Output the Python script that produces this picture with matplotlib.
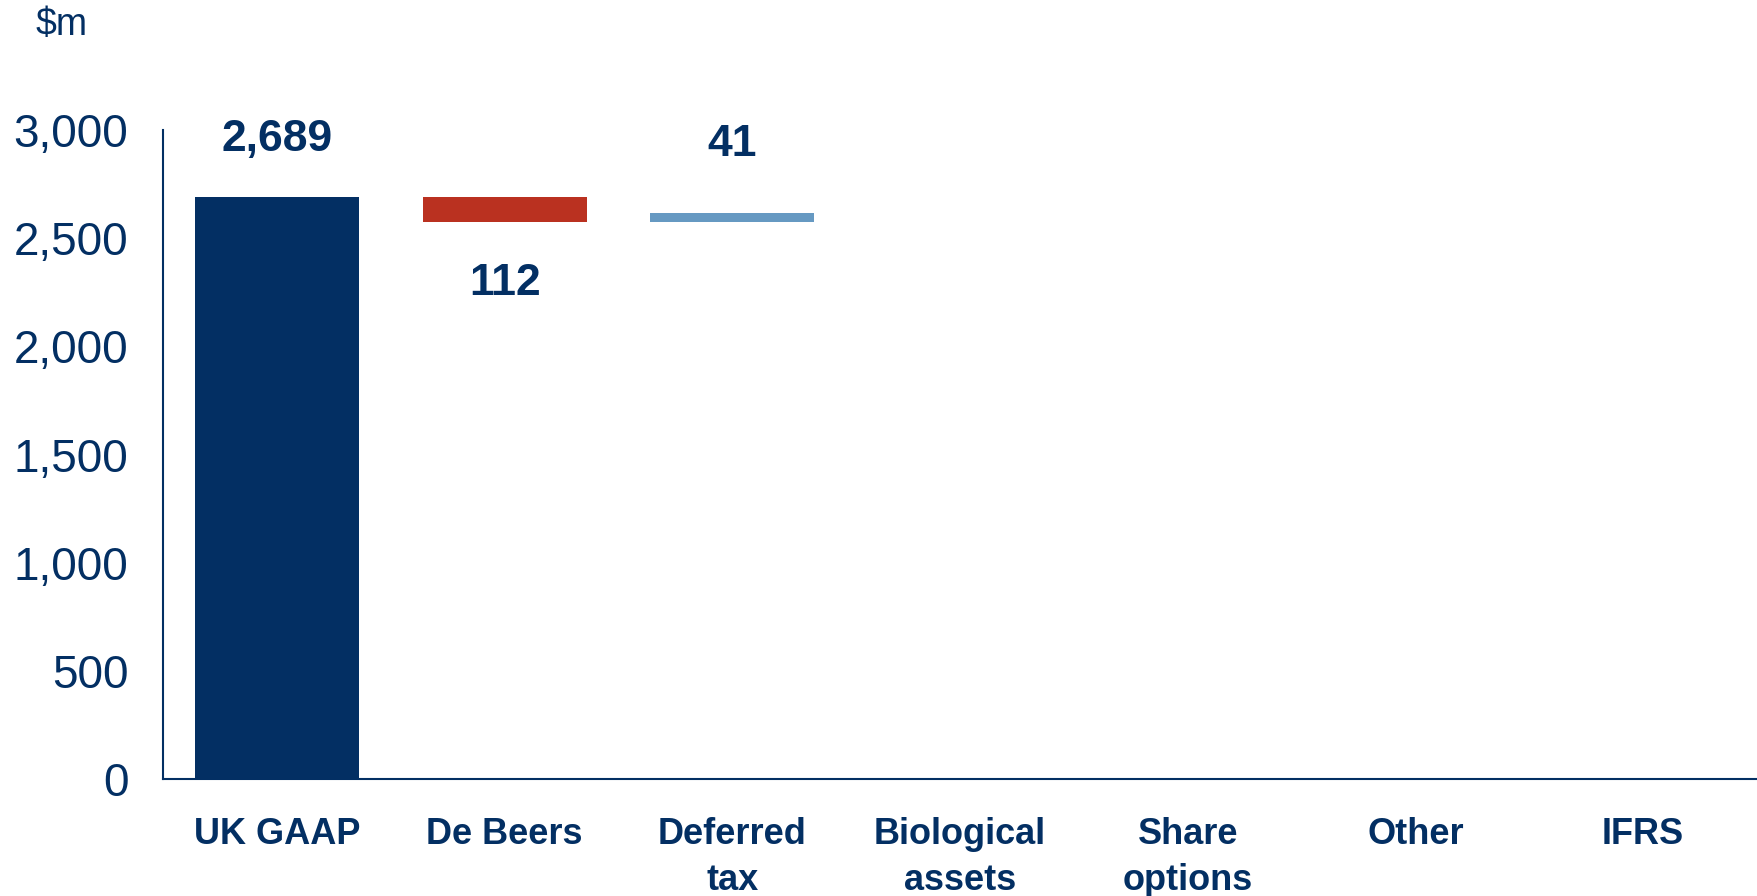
import matplotlib.pyplot as plt

categories = ["UK GAAP", "De Beers", "Deferred\ntax", "Biological\nassets",
              "Share\noptions", "Other", "IFRS"]
start_value = 2689
changes = [-112, 41]          # only the first two adjustments are drawn
change_colors = ["#BA3120", "#6699C2"]
yticks = [0, 500, 1000, 1500, 2000, 2500, 3000]

navy = "#032F63"
plt.rcParams['font.family'] = ['Liberation Sans', 'DejaVu Sans']

fig = plt.figure(figsize=(17.57, 8.96), dpi=100)
ax = fig.add_axes([163 / 1757, 1 - 779 / 896, 1 - 163 / 1757, (779 - 130) / 896])

w = 0.72
ax.bar(0, start_value, width=w, color=navy)
ax.annotate(f"{start_value:,}", (0, start_value), xytext=(0, 27), textcoords='offset points',
            ha='center', va='bottom', fontsize=32, fontweight='bold', color=navy)

level = start_value
for i, (d, c) in enumerate(zip(changes, change_colors), start=1):
    lo = min(level, level + d)
    ax.bar(i, abs(d), bottom=lo, width=w, color=c)
    if d < 0:
        ax.annotate(f"{abs(d):,}", (i, lo), xytext=(0, -30), textcoords='offset points',
                    ha='center', va='top', fontsize=32, fontweight='bold', color=navy)
    else:
        ax.annotate(f"{d:,}", (i, lo + d), xytext=(0, 34), textcoords='offset points',
                    ha='center', va='bottom', fontsize=32, fontweight='bold', color=navy)
    level += d

ax.set_xlim(-0.5, 6.5)
ax.set_ylim(0, 3000)
ax.set_yticks(yticks)
ax.set_yticklabels([f"{v:,}" for v in yticks], fontsize=33, color=navy)
ax.set_xticks(range(len(categories)))
ax.set_xticklabels(categories, fontsize=26, fontweight='bold', color=navy, linespacing=1.42)
ax.tick_params(axis='y', length=0, pad=25)
ax.tick_params(axis='x', length=0, pad=27)

for s in ['top', 'right']:
    ax.spines[s].set_visible(False)
for s in ['left', 'bottom']:
    ax.spines[s].set_color(navy)
    ax.spines[s].set_linewidth(1.5)

fig.text(62 / 1757, 1 - 25 / 896, "$m", fontsize=27, color=navy, ha='center', va='center')

fig.savefig("out.png", dpi=100)
